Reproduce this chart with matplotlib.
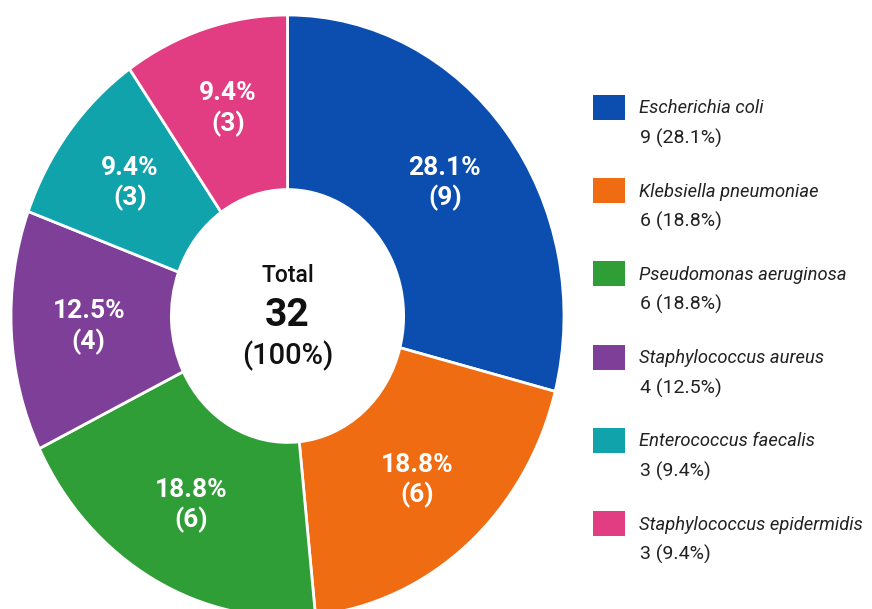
import matplotlib
matplotlib.use('Agg')
import matplotlib.pyplot as plt
from matplotlib.patches import Rectangle

# Data
species = ["Escherichia coli", "Klebsiella pneumoniae", "Pseudomonas aeruginosa",
           "Staphylococcus aureus", "Enterococcus faecalis", "Staphylococcus epidermidis"]
counts = [9, 6, 6, 4, 3, 3]
percents = [28.1, 18.8, 18.8, 12.5, 9.4, 9.4]
total = 32

colors = ["#0c4eb0", "#f06c12", "#2f9e37", "#7e3f98", "#10a3ac", "#e23c82"]

W, H = 872, 609
plt.rcParams['font.family'] = ['Roboto', 'DejaVu Sans']

fig = plt.figure(figsize=(W / 100, H / 100), dpi=100)
fig.patch.set_facecolor('white')
ax = fig.add_axes([0, 0, 1, 1])

# Donut geometry (pixels in the reference)
cx, cy = 287.5, 316
rx, ry = 276.5, 301

wedge_labels = [f"{p}%\n({c})" for p, c in zip(percents, counts)]
wedges, texts = ax.pie(
    counts,
    colors=colors,
    startangle=90,
    counterclock=False,
    labels=wedge_labels,
    labeldistance=0.72,
    radius=1.0,
    wedgeprops=dict(width=0.58, edgecolor='white', linewidth=2),
)
for t in texts:
    t.set_ha('center')
    t.set_va('center')
    t.set_color('white')
    t.set_fontsize(19)
    t.set_fontweight('bold')
    t.set_linespacing(1.25)

ax.set_aspect('auto')
ax.set_xlim(-cx / rx, (W - cx) / rx)
ax.set_ylim(-(H - cy) / ry, cy / ry)
ax.axis('off')

# Centre text
ax.text(0, 40 / ry, "Total", ha='center', va='center', fontsize=16.5, fontweight='medium', color='#111111')
ax.text(0, 0, str(total), ha='center', va='center', fontsize=28, fontweight='bold', color='#111111')
ax.text(0, -40 / ry, "(100%)", ha='center', va='center', fontsize=21, fontweight='medium', color='#111111')

# Legend, drawn by hand to mix italic names with plain counts
def fx(x):
    return x / W

def fy(y):
    return 1 - y / H

top, step = 107.5, 83.2
for i, (name, c, p, col) in enumerate(zip(species, counts, percents, colors)):
    yc = top + i * step
    fig.patches.append(Rectangle((fx(593), fy(yc + 12.5)), 32 / W, 25 / H,
                                 transform=fig.transFigure, facecolor=col, edgecolor='none'))
    fig.text(fx(639), fy(yc + 1), name, ha='left', va='center', fontsize=13.2,
             style='italic', color='#222222')
    fig.text(fx(640), fy(yc + 31), f"{c} ({p}%)", ha='left', va='center', fontsize=14,
             color='#222222')

plt.savefig('out.png', dpi=100, facecolor=fig.get_facecolor())
plt.close(fig)
